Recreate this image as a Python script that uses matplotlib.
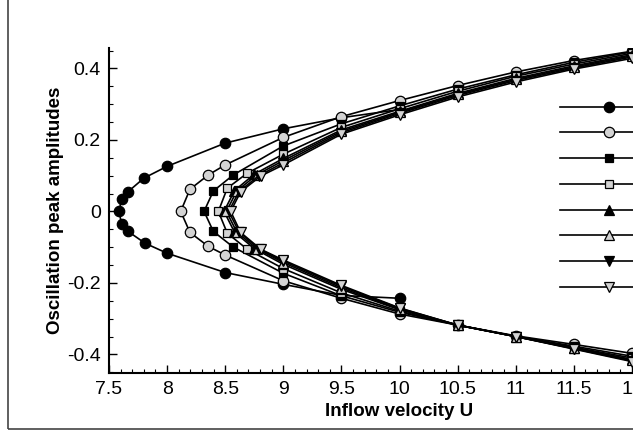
import numpy as np
import matplotlib
matplotlib.use("Agg")
import matplotlib.pyplot as plt
from matplotlib.patches import Rectangle
from matplotlib.ticker import MultipleLocator

plt.rcParams['font.family'] = ['Liberation Sans', 'DejaVu Sans']

# each series: x (inflow velocity) and y (peak amplitude), lower branch -> nose -> upper branch
s1_x = [10.0, 9.5, 9.0, 8.5, 8.0, 7.81, 7.66, 7.61, 7.585, 7.61, 7.66, 7.8, 8.0, 8.5, 9.0, 9.5, 10.0]
s1_y = [-0.243, -0.235, -0.204, -0.171, -0.117, -0.089, -0.055, -0.036, 0.0, 0.036, 0.054, 0.093, 0.126, 0.191, 0.231, 0.262, 0.285]

s2_x = [12.0, 11.5, 11.0, 10.5, 10.0, 9.5, 9.0, 8.5, 8.355, 8.197, 8.117, 8.197, 8.355, 8.5, 9.0, 9.5, 10.0, 10.5, 11.0, 11.5, 12.0]
s2_y = [-0.397, -0.372, -0.348, -0.318, -0.287, -0.243, -0.194, -0.122, -0.098, -0.059, 0.0, 0.062, 0.102, 0.130, 0.207, 0.265, 0.310, 0.352, 0.390, 0.422, 0.448]

s3_x = [12.0, 11.5, 11.0, 10.5, 10.0, 9.5, 9.0, 8.57, 8.398, 8.318, 8.398, 8.57, 9.0, 9.5, 10.0, 10.5, 11.0, 11.5, 12.0]
s3_y = [-0.405, -0.377, -0.349, -0.318, -0.282, -0.236, -0.173, -0.100, -0.056, 0.0, 0.057, 0.102, 0.183, 0.245, 0.295, 0.342, 0.382, 0.417, 0.446]

s4_x = [12.0, 11.5, 11.0, 10.5, 10.0, 9.5, 9.0, 8.69, 8.518, 8.441, 8.518, 8.69, 9.0, 9.5, 10.0, 10.5, 11.0, 11.5, 12.0]
s4_y = [-0.410, -0.380, -0.350, -0.318, -0.279, -0.228, -0.160, -0.106, -0.061, 0.0, 0.065, 0.107, 0.160, 0.235, 0.287, 0.336, 0.378, 0.412, 0.442]

s5_x = [12.0, 11.5, 11.0, 10.5, 10.0, 9.5, 9.0, 8.75, 8.58, 8.49, 8.58, 8.75, 9.0, 9.5, 10.0, 10.5, 11.0, 11.5, 12.0]
s5_y = [-0.414, -0.382, -0.350, -0.318, -0.275, -0.218, -0.148, -0.104, -0.058, 0.0, 0.058, 0.104, 0.148, 0.228, 0.280, 0.330, 0.372, 0.407, 0.438]

s6_x = [12.0, 11.5, 11.0, 10.5, 10.0, 9.5, 9.0, 8.77, 8.60, 8.51, 8.60, 8.77, 9.0, 9.5, 10.0, 10.5, 11.0, 11.5, 12.0]
s6_y = [-0.416, -0.383, -0.350, -0.318, -0.273, -0.214, -0.143, -0.104, -0.058, 0.0, 0.057, 0.102, 0.142, 0.224, 0.277, 0.327, 0.369, 0.404, 0.435]

s7_x = [12.0, 11.5, 11.0, 10.5, 10.0, 9.5, 9.0, 8.79, 8.62, 8.53, 8.62, 8.79, 9.0, 9.5, 10.0, 10.5, 11.0, 11.5, 12.0]
s7_y = [-0.418, -0.384, -0.350, -0.318, -0.271, -0.210, -0.139, -0.105, -0.058, 0.0, 0.056, 0.100, 0.136, 0.220, 0.274, 0.324, 0.366, 0.401, 0.432]

s8_x = [12.0, 11.5, 11.0, 10.5, 10.0, 9.5, 9.0, 8.806, 8.633, 8.547, 8.633, 8.806, 9.0, 9.5, 10.0, 10.5, 11.0, 11.5, 12.0]
s8_y = [-0.420, -0.385, -0.350, -0.318, -0.270, -0.207, -0.136, -0.106, -0.059, 0.0, 0.055, 0.099, 0.130, 0.216, 0.270, 0.320, 0.362, 0.398, 0.428]

series = [(s1_x, s1_y), (s2_x, s2_y), (s3_x, s3_y), (s4_x, s4_y),
          (s5_x, s5_y), (s6_x, s6_y), (s7_x, s7_y), (s8_x, s8_y)]
labels = ['case 1', 'case 2', 'case 3', 'case 4', 'case 5', 'case 6', 'case 7', 'case 8']
markers = ['o', 'o', 's', 's', '^', '^', 'v', 'v']
faces = ['black', '#d3d3d3'] * 4
sizes = [7.5, 7.5, 6, 6, 6.5, 6.5, 6.5, 6.5]

x_ticks = [7.5, 8, 8.5, 9, 9.5, 10, 10.5, 11, 11.5, 12, 12.5]
x_tick_labels = ['7.5', '8', '8.5', '9', '9.5', '10', '10.5', '11', '11.5', '12', '12.5']
y_ticks = [-0.4, -0.2, 0, 0.2, 0.4]
y_tick_labels = ['-0.4', '-0.2', '0', '0.2', '0.4']

fig = plt.figure(figsize=(6.33, 4.33), dpi=100)
# the plot area runs past the right edge of the picture
ax = fig.add_axes([109 / 633, 60 / 433, 581 / 633, 325 / 433])

for (x, y), m, fc, ms, lab in zip(series, markers, faces, sizes, labels):
    ax.plot(x, y, color='black', lw=1.2, marker=m, ms=ms, mfc=fc, mec='black',
            mew=0.9, label=lab)

ax.set_xlim(7.5, 12.5)
ax.set_ylim(-0.452, 0.457)
ax.set_xticks(x_ticks)
ax.set_xticklabels(x_tick_labels)
ax.set_yticks(y_ticks)
ax.set_yticklabels(y_tick_labels)
ax.xaxis.set_minor_locator(MultipleLocator(0.1))
ax.yaxis.set_minor_locator(MultipleLocator(0.05))
ax.tick_params(which='major', direction='in', length=6, width=1, labelsize=14, pad=6)
ax.tick_params(which='minor', direction='in', length=3, width=0.8)
for side in ['top', 'right']:
    ax.spines[side].set_visible(False)
for side in ['left', 'bottom']:
    ax.spines[side].set_linewidth(1.5)

ax.set_xlabel('Inflow velocity U', fontsize=13.5, fontweight='bold', labelpad=3)
ax.set_ylabel('Oscillation peak amplitudes', fontsize=13.5, fontweight='bold', labelpad=2)

ax.legend(loc='upper left', bbox_to_anchor=(560 / 633, 1 - 101 / 433),
          bbox_transform=fig.transFigure, frameon=False, handlelength=6.4,
          fontsize=11, labelspacing=0.77, borderaxespad=0, borderpad=0)

fig.add_artist(Rectangle((8 / 633, 4 / 433), 2, 2, transform=fig.transFigure,
                         fill=False, edgecolor='#444444', lw=1.2))

fig.savefig('out.png', dpi=100)
